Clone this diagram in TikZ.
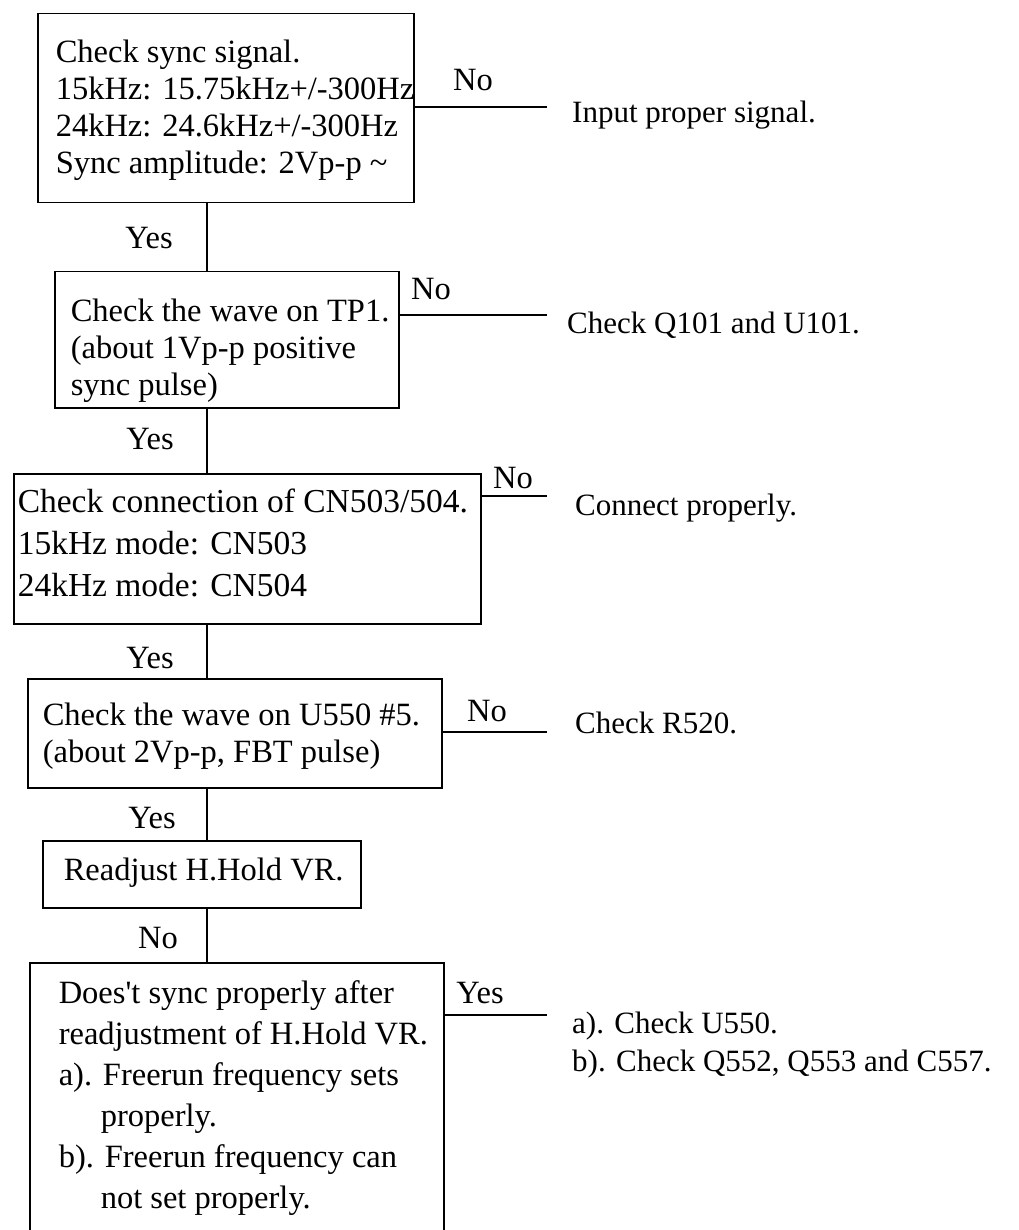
\documentclass[tikz,border=0pt]{standalone}
\usepackage{fontspec}
\setmainfont{Liberation Serif}
\newcommand\boxlines[2]{\makebox[#1][l]{\begin{tabular}[t]{@{}l@{}}#2\end{tabular}}}
\begin{document}
\begin{tikzpicture}[x=1pt,y=-1pt,
  box/.style={draw, line width=1.5pt, anchor=north west, inner ysep=0pt, font=\fontsize{32.5}{37}\selectfont},
  lab/.style={inner sep=0pt, font=\fontsize{32.5}{37}\selectfont},
  res/.style={anchor=base west, inner sep=0pt, font=\fontsize{31}{37}\selectfont},
  conn/.style={line width=1.5pt}]
\useasboundingbox (0,0) rectangle (1018,1230);
\fill[white] (0,0) rectangle (1018,1230);

% boxes
\node[box, inner xsep=18pt, text height=49pt, text depth=140pt] (b1) at (37,13)
  {\boxlines{340pt}{Check sync signal.\\15kHz: 15.75kHz+/-300Hz\\24kHz: 24.6kHz+/-300Hz\\Sync amplitude: 2Vp-p \textasciitilde}};
\node[box, inner xsep=16pt, text height=50pt, text depth=86pt] (b2) at (54,271)
  {\boxlines{312pt}{Check the wave on TP1.\\(about 1Vp-p positive\\sync pulse)}};
\node[box, inner xsep=4pt, text height=39pt, text depth=111pt, font=\fontsize{33.5}{42}\selectfont] (b3) at (13,473)
  {\boxlines{459pt}{Check connection of CN503/504.\\15kHz mode: CN503\\24kHz mode: CN504}};
\node[box, inner xsep=15pt, text height=47pt, text depth=62pt] (b4) at (27,678)
  {\boxlines{384pt}{Check the wave on U550 \#5.\\(about 2Vp-p, FBT pulse)}};
\node[box, inner xsep=21pt, text height=40pt, text depth=27pt] (b5) at (42,840)
  {\boxlines{276pt}{Readjust H.Hold VR.}};
\node[box, inner xsep=29pt, text height=41pt, text depth=320pt, font=\fontsize{32.5}{41}\selectfont] (b6) at (29,962)
  {\boxlines{356pt}{Does\textquotesingle t sync properly after\\readjustment of H.Hold VR.\\a). Freerun frequency sets\\\hspace*{42pt}properly.\\b). Freerun frequency can\\\hspace*{42pt}not set properly.}};

% spine connectors
\coordinate (spine) at (207,0);
\draw[conn] (b1.south -| spine) -- (b2.north -| spine);
\draw[conn] (b2.south -| spine) -- (b3.north -| spine);
\draw[conn] (b3.south -| spine) -- (b4.north -| spine);
\draw[conn] (b4.south -| spine) -- (b5.north -| spine);
\draw[conn] (b5.south -| spine) -- (b6.north -| spine);

% side connectors
\coordinate (e1) at (547,107);
\coordinate (e2) at (547,315);
\coordinate (e3) at (547,496);
\coordinate (e4) at (547,732);
\coordinate (e5) at (547,1015);
\draw[conn] (b1.east |- e1) -- (e1);
\draw[conn] (b2.east |- e2) -- (e2);
\draw[conn] (b3.east |- e3) -- (e3);
\draw[conn] (b4.east |- e4) -- (e4);
\draw[conn] (b6.east |- e5) -- (e5);

% branch labels
\node[lab] (n1) at (473,80) {No};
\node[lab] (n2) at (431,289) {No};
\node[lab] (n3) at (513,478) {No};
\node[lab] (n4) at (487,711) {No};
\node[lab] (y5) at (480,993) {Yes};
\node[lab] (y1) at (149,238) {Yes};
\node[lab] (y2) at (150,439) {Yes};
\node[lab] (y3) at (150,658) {Yes};
\node[lab] (y4) at (152,818) {Yes};
\node[lab] (n5) at (158,938) {No};

% results
\node[res] (r1) at (572,123) {Input proper signal.};
\node[res] (r2) at (567,333) {Check Q101 and U101.};
\node[res] (r3) at (575,515) {Connect properly.};
\node[res] (r4) at (575,733) {Check R520.};
\node[res] (r5) at (572,1033) {a). Check U550.};
\node[res] (r6) at (572,1071) {b). Check Q552, Q553 and C557.};
\end{tikzpicture}
\end{document}
